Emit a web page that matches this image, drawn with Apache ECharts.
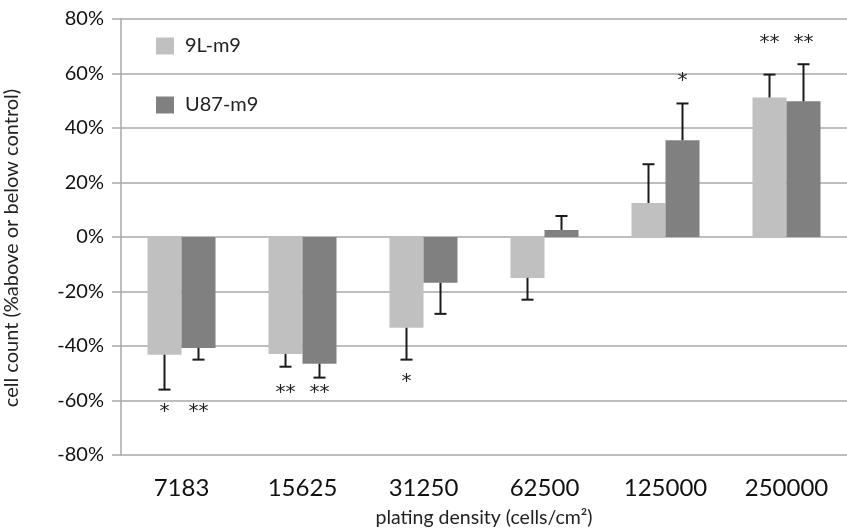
<!DOCTYPE html>
<html>
<head>
<meta charset="utf-8">
<script src="https://cdn.jsdelivr.net/npm/echarts@6/dist/echarts.min.js"></script>
<style>html,body{margin:0;padding:0;background:#fff}#c{width:847px;height:532px}</style>
</head>
<body>
<div id="c"></div>
<script>
var categories = ['7183', '15625', '31250', '62500', '125000', '250000'];
var seriesNames = ['9L-m9', 'U87-m9'];
var values9L = [-43.2, -42.9, -33.3, -15.0, 12.5, 51.2];
var valuesU87 = [-40.7, -46.5, -16.8, 2.6, 35.5, 49.8];
var err9L = [12.8, 4.7, 11.7, 8.0, 14.2, 8.4];
var errU87 = [4.3, 5.1, 11.4, 5.1, 13.5, 13.6];
// significance marks: [category index, series index (0=9L,1=U87), y value, text]
var marks = [
  [0, 0, -64.2, '*'], [0, 1, -64.2, '**'],
  [1, 0, -57.2, '**'], [1, 1, -57.2, '**'],
  [2, 0, -53.2, '*'],
  [4, 1, 57.2, '*'],
  [5, 0, 71.2, '**'], [5, 1, 71.2, '**']
];
var yTicks = [-80, -60, -40, -20, 0, 20, 40, 60, 80];

var BAR_W = 34;
var colors = ['#c0c0c0', '#808080'];
var gridColor = '#a8a8a8';
var font = 'Lato, "Open Sans", sans-serif';

var errData = [];
values9L.forEach(function (v, i) { errData.push([i, v, err9L[i], 0]); });
valuesU87.forEach(function (v, i) { errData.push([i, v, errU87[i], 1]); });

var chart = echarts.init(document.getElementById('c'), null, {renderer: 'canvas'});
chart.setOption({
  animation: false,
  color: colors,
  grid: {left: 121, right: 0, top: 19, bottom: 77, containLabel: false, outerBoundsMode: 'none'},
  legend: {
    data: seriesNames,
    orient: 'vertical',
    left: 156, top: 36, padding: 0,
    itemWidth: 18, itemHeight: 17, itemGap: 39,
    icon: 'rect',
    textStyle: {fontFamily: font, fontSize: 20, color: '#222', padding: [0, 0, 0, 6]}
  },
  xAxis: {
    type: 'category',
    data: categories,
    axisLine: {show: false, onZero: false},
    axisTick: {show: false},
    axisLabel: {fontFamily: font, fontSize: 24, color: '#111', margin: 21},
    name: 'plating density (cells/cm²)',
    nameLocation: 'middle',
    nameGap: 53,
    nameTextStyle: {fontFamily: font, fontSize: 19.5, color: '#222'}
  },
  yAxis: {
    type: 'value',
    min: -80, max: 80, interval: 20,
    axisLine: {show: true, lineStyle: {color: gridColor, width: 1.5}},
    axisTick: {show: true, length: 9, lineStyle: {color: gridColor, width: 1.5}},
    splitLine: {lineStyle: {color: gridColor, width: 1.5}},
    axisLabel: {fontFamily: font, fontSize: 20, color: '#111', margin: 17,
      formatter: function (v) { return v + '%'; }},
    name: 'cell count (%above or below control)',
    nameLocation: 'middle',
    nameGap: 99,
    nameTextStyle: {fontFamily: font, fontSize: 20, color: '#222', padding: [0, 22, 0, 0]}
  },
  series: [
    {name: seriesNames[0], type: 'bar', data: values9L, barWidth: BAR_W, barGap: '0%', z: 2},
    {name: seriesNames[1], type: 'bar', data: valuesU87, barWidth: BAR_W, barGap: '0%', z: 2},
    {
      type: 'custom', z: 5, silent: true,
      data: errData,
      renderItem: function (params, api) {
        var ci = api.value(0), v = api.value(1), e = api.value(2), s = api.value(3);
        var off = (s === 0 ? -1 : 1) * BAR_W / 2;
        var end = v >= 0 ? v + e : v - e;
        var p0 = api.coord([ci, v]);
        var p1 = api.coord([ci, end]);
        var x = p0[0] + off;
        var st = {stroke: '#1a1a1a', lineWidth: 2};
        return {type: 'group', children: [
          {type: 'line', shape: {x1: x, y1: p0[1], x2: x, y2: p1[1]}, style: st},
          {type: 'line', shape: {x1: x - 6, y1: p1[1], x2: x + 6, y2: p1[1]}, style: st}
        ]};
      }
    },
    {
      type: 'custom', z: 5, silent: true,
      data: marks,
      renderItem: function (params, api) {
        var ci = api.value(0), s = api.value(1), y = api.value(2);
        var txt = marks[params.dataIndex][3];
        var off = (s === 0 ? -1 : 1) * BAR_W / 2;
        var p = api.coord([ci, y]);
        return {type: 'text', x: p[0] + off, y: p[1],
          style: {text: txt, fill: '#222', font: '20px "DejaVu Sans", sans-serif',
            align: 'center', verticalAlign: 'middle'}};
      }
    }
  ]
});
</script>
</body>
</html>
